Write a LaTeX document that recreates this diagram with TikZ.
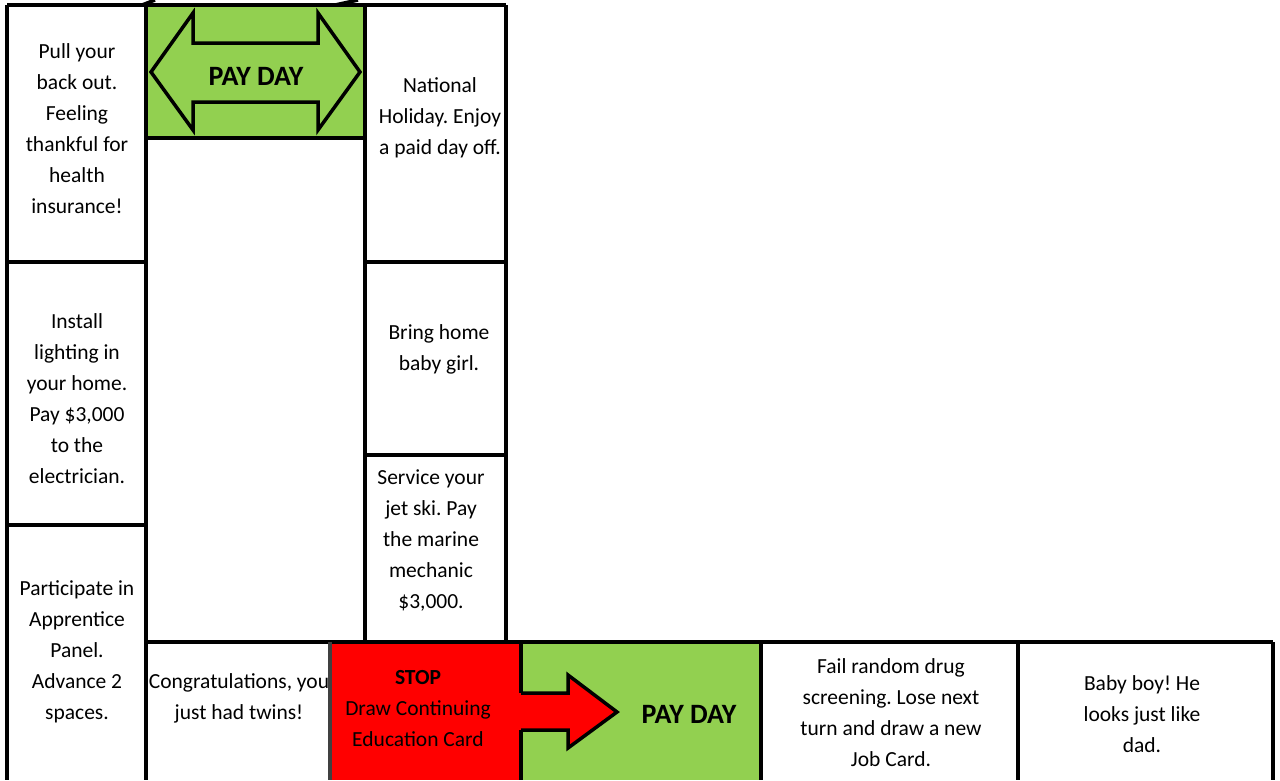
\documentclass[tikz,border=0pt]{standalone}
\usepackage{fontspec}
\setmainfont{Carlito}
\frenchspacing
\definecolor{payGreen}{HTML}{92D050}
\definecolor{stopRed}{HTML}{FF0000}
\tikzset{
  cell/.style={line width=3.5pt},
  celltext/.style={align=center,font=\fontsize{21.5}{31}\selectfont},
  paytext/.style={font=\fontsize{28}{32}\selectfont\bfseries}
}
\begin{document}
\begin{tikzpicture}[x=1pt,y=-1pt]
            \useasboundingbox (0,0) rectangle (1280,780);
            \fill[white] (0,0) rectangle (1280,780);
            \fill[payGreen] (146,5) rectangle (365,138);
            \node[celltext] (twins) at (239,698) {Congratulations, you\\just had twins!};
            \fill[stopRed] (330,642) rectangle (521,780);
            \fill[payGreen] (521,642) rectangle (761,780);
            % top double arrow
            \draw[line width=3.5pt,line join=miter] (151,72)--(193,13)--(193,43)--(318,43)--(318,13)--(360,72)
                --(318,130)--(318,102)--(193,102)--(193,130)--cycle;
            \node[paytext] (paytop) at (256,76) {PAY DAY};
            % red arrow
            \fill[stopRed] (518,693)--(568,693)--(568,675)--(617,712)--(568,748)--(568,730)--(518,730)--cycle;
            \draw[line width=3.5pt,line join=miter] (521,693)--(568,693)--(568,675)--(617,712)--(568,748)--(568,730)--(521,730);
            \node[paytext] (paybot) at (689,714) {PAY DAY};
            \node[celltext,font=\fontsize{21.5}{31}\selectfont\bfseries] (stop) at (418,678) {STOP};
            \node[celltext] (card) at (418,724) {Draw Continuing\\Education Card};
            % borders
            \draw[cell] (7,5)--(506,5);
            \draw[cell] (142,5)--(155,0);
            \draw[cell] (335,5)--(358,0);
            \draw[cell] (7,5)--(7,780);
            \draw[cell] (146,5)--(146,780);
            \draw[cell] (7,262)--(146,262);
            \draw[cell] (7,525)--(146,525);
            \draw[cell] (146,138)--(365,138);
            \draw[cell] (365,5)--(365,642);
            \draw[cell] (506,5)--(506,642);
            \draw[cell] (365,262)--(506,262);
            \draw[cell] (365,455)--(506,455);
            \draw[cell] (146,642)--(1273,642);
            \draw[cell,black!75] (330,642)--(330,780);
            \draw[cell] (521,642)--(521,693);
            \draw[cell] (521,730)--(521,780);
            \draw[cell] (761,642)--(761,780);
            \draw[cell] (1018,642)--(1018,780);
            \draw[cell] (1273,642)--(1273,780);
            % cell texts
            \node[celltext] (backout) at (77,129) {Pull your\\back out.\\Feeling\\thankful for\\health\\insurance!};
            \node[celltext] (lighting) at (77,399) {Install\\lighting in\\your home.\\Pay \$3,000\\to the\\electrician.};
            \node[celltext] (panel) at (77,652) {Participate in\\Apprentice\\Panel.\\Advance 2\\spaces.};
            \node[celltext] (holiday) at (440,118) {National\\Holiday. Enjoy\\a paid day off.};
            \node[celltext] (girl) at (439,349) {Bring home\\baby girl.};
            \node[celltext] (jetski) at (431,540) {Service your\\jet ski. Pay\\the marine\\mechanic\\\$3,000.};
            \node[celltext] (drug) at (891,713) {Fail random drug\\screening. Lose next\\turn and draw a new\\Job Card.};
            \node[celltext] (boy) at (1142,714) {Baby boy! He\\looks just like\\dad.};
\end{tikzpicture}
\end{document}
